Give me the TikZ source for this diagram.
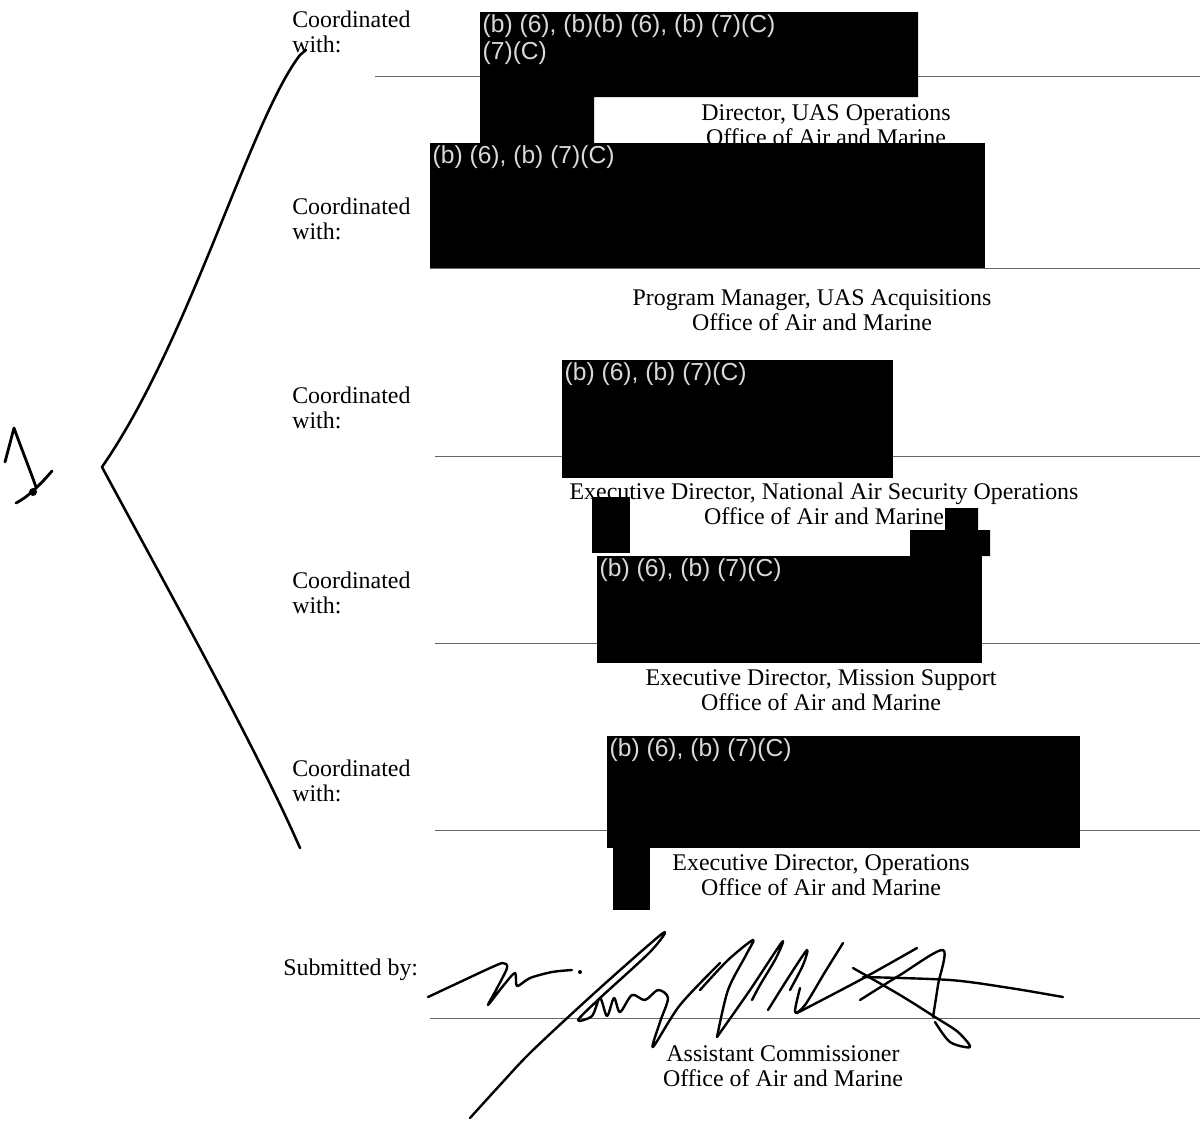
\documentclass[tikz,border=0pt]{standalone}
\usepackage{fontspec}
\setmainfont{Liberation Serif}
\newfontfamily\redactfont{Liberation Sans}
\usetikzlibrary{positioning}

\begin{document}
\begin{tikzpicture}[x=0.025cm, y=-0.025cm,
    field/.style={anchor=west, align=left, inner sep=0pt,
                  font=\fontsize{17}{17.8}\selectfont},
    title/.style={align=center, inner sep=0pt,
                  font=\fontsize{17}{17.8}\selectfont},
    redact/.style={fill=black},
    tag/.style={anchor=north west, align=left, inner sep=1pt, text=gray!30,
                font=\redactfont\fontsize{17.5}{19.5}\selectfont},
    rule/.style={black!60, line width=0.6pt},
    ink/.style={line width=1.8pt, line cap=round, line join=round},
    pen/.style={line width=1.7pt, line cap=round, line join=round}
]
\useasboundingbox (0,0) rectangle (1200,1120);

% Signature lines
\draw[rule] (375,76) -- (1200,76);
\draw[rule] (430,268) -- (1200,268);
\draw[rule] (435,456) -- (1200,456);
\draw[rule] (435,643) -- (1200,643);
\draw[rule] (435,830) -- (1200,830);
\draw[rule] (430,1018) -- (1200,1018);

% Left column
\node[field] (coordA) at (292,32) {Coordinated\\with:};
\node[field] (coordB) at (292,219) {Coordinated\\with:};
\node[field] (coordC) at (292,408) {Coordinated\\with:};
\node[field] (coordD) at (292,593) {Coordinated\\with:};
\node[field] (coordE) at (292,781) {Coordinated\\with:};
\node[field] (submit) at (283,970) {Submitted by:};

% Titles under the lines
\node[title] (uasops) at (826,125) {Director, UAS Operations\\Office of Air and Marine};
\node[title] (uasacq) at (812,310) {Program Manager, UAS Acquisitions\\Office of Air and Marine};
\node[title] (naso) at (824,504) {Executive Director, National Air Security Operations\\Office of Air and Marine};
\node[title] (missup) at (821,690) {Executive Director, Mission Support\\Office of Air and Marine};
\node[title] (ops) at (821,875) {Executive Director, Operations\\Office of Air and Marine};
\node[title] (asstcomm) at (783,1066) {Assistant Commissioner\\Office of Air and Marine};

% Redactions
\fill[redact] (480,12) -- (918,12) -- (918,97) -- (594,97) -- (594,143) -- (480,143) -- cycle;
\fill[redact] (430,143) rectangle (985,268);
\fill[redact] (562,360) rectangle (893,478);
\fill[redact] (592,497) rectangle (630,553);
\fill[redact] (945,508) -- (978,508) -- (978,530) -- (990,530) -- (990,556)
    -- (910,556) -- (910,530) -- (945,530) -- cycle;
\fill[redact] (597,556) rectangle (982,663);
\fill[redact] (607,736) rectangle (1080,848);
\fill[redact] (613,848) rectangle (650,910);

\node[tag] (tagA) at (481,13) {(b) (6), (b)(b) (6), (b) (7)(C)\\(7)(C)};
\node[tag] (tagB) at (431,144) {(b) (6), (b) (7)(C)};
\node[tag] (tagC) at (563,361) {(b) (6), (b) (7)(C)};
\node[tag] (tagD) at (598,557) {(b) (6), (b) (7)(C)};
\node[tag] (tagE) at (608,737) {(b) (6), (b) (7)(C)};

% Handwritten bracket and mark
\draw[ink] (306,50) -- (300,55) .. controls (250,120) and (190,340) .. (102,467)
    .. controls (160,575) and (255,745) .. (300,848);
\draw[ink, line width=2pt] (5,462) -- (14,428) .. controls (22,450) and (30,470) .. (36,487);
\draw[ink, line width=2pt] (16,503) .. controls (28,497) and (40,485) .. (52,471);
\fill (33,492) circle (4);

% Signature
\draw[pen] plot[smooth, tension=0.5] coordinates {(428,997) (460,982) (490,968) (503,963)
    (507,968) (496,990) (488,1005) (503,986) (515,973) (517,986) (530,978) (552,972) (572,970)};
\fill (580,972) circle (2);
\draw[pen] plot[smooth, tension=0.5] coordinates {(470,1118) (500,1085) (533,1050) (600,988)
    (663,933) (650,952) (600,998) (578,1020) (592,1016) (600,998) (607,1016) (614,998)
    (620,1012) (632,995) (645,1000) (658,990) (668,998) (660,1022) (653,1047) (680,1005) (720,963)};
\draw[pen] plot[smooth, tension=0.5] coordinates {(700,990) (728,960) (753,940) (746,955)
    (728,990) (717,1037)};
\draw[pen] plot[smooth, tension=0.5] coordinates {(717,1037) (750,990) (782,942) (776,958)
    (760,985) (752,1000)};
\draw[pen] plot[smooth, tension=0.5] coordinates {(768,1010) (790,975) (807,950) (803,965) (790,990)};
\draw[pen] plot[smooth, tension=0.5] coordinates {(800,988) (795,1012) (805,1005) (825,972) (843,943)};
\draw[pen] plot[smooth, tension=0.5] coordinates {(797,1013) (860,980) (917,948)};
\draw[pen] plot[smooth, tension=0.5] coordinates {(853,968) (900,995) (935,1017) (958,1032)
    (970,1047) (950,1042) (935,1022)};
\draw[pen] plot[smooth, tension=0.5] coordinates {(860,1000) (900,975) (943,950) (938,985) (933,1017)};
\draw[pen] plot[smooth, tension=0.5] coordinates {(863,977) (950,980) (1010,988) (1063,997)};

\end{tikzpicture}
\end{document}
